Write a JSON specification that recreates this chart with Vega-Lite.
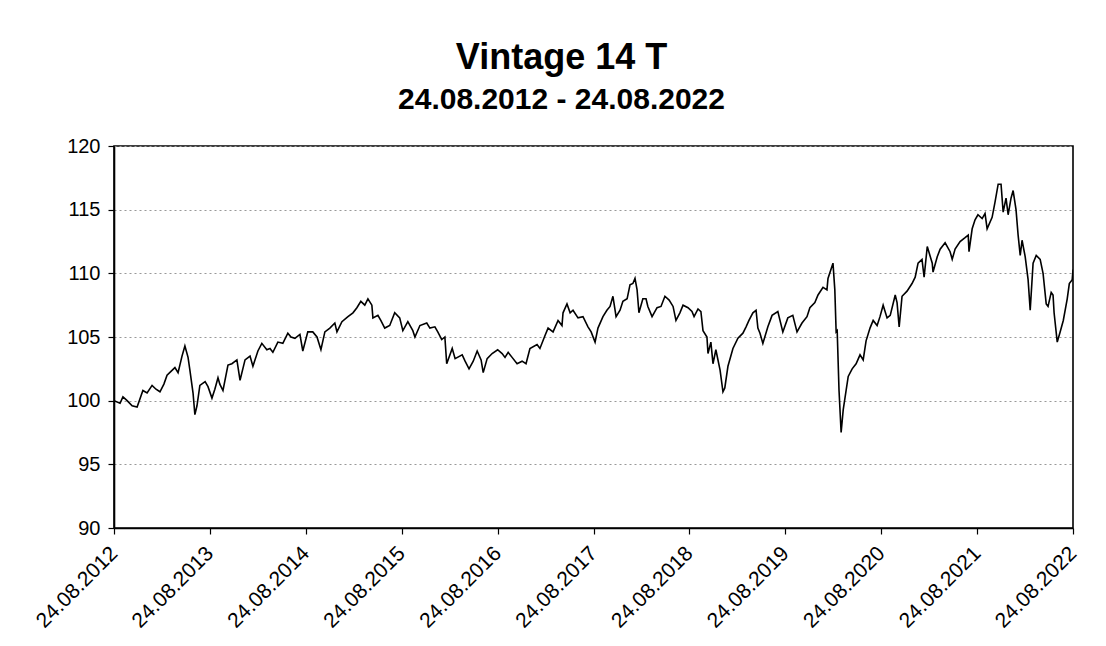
{
  "$schema": "https://vega.github.io/schema/vega-lite/v6.json",
  "width": 959,
  "height": 382,
  "autosize": {"type": "none"},
  "padding": {"left": 114, "top": 146, "right": 33, "bottom": 118},
  "background": "white",
  "title": {
    "text": "Vintage 14 T",
    "subtitle": "24.08.2012 - 24.08.2022",
    "anchor": "middle",
    "frame": "group",
    "dx": -32,
    "offset": 20,
    "font": "Liberation Sans",
    "subtitleFont": "Liberation Sans",
    "fontSize": 36,
    "subtitleFontSize": 30,
    "fontWeight": "bold",
    "subtitleFontWeight": "bold",
    "color": "#000000",
    "subtitleColor": "#000000",
    "subtitlePadding": 8
  },
  "config": {
    "view": {"stroke": "#000000", "strokeWidth": 1.6},
    "axis": {
      "labelFont": "Liberation Sans",
      "labelColor": "#000000",
      "labelFontSize": 20,
      "domainColor": "#000000",
      "domainWidth": 1.6,
      "tickColor": "#000000",
      "tickSize": 6,
      "tickWidth": 1.2
    }
  },
  "data": {
    "values": [
      {"d": "2012-08-24", "v": 100.0},
      {"d": "2012-09-16", "v": 99.8},
      {"d": "2012-09-27", "v": 100.3},
      {"d": "2012-10-13", "v": 100.0},
      {"d": "2012-11-01", "v": 99.6},
      {"d": "2012-11-20", "v": 99.5},
      {"d": "2012-12-12", "v": 100.8},
      {"d": "2012-12-28", "v": 100.6},
      {"d": "2013-01-16", "v": 101.2},
      {"d": "2013-01-31", "v": 100.9},
      {"d": "2013-02-15", "v": 100.7},
      {"d": "2013-03-02", "v": 101.3},
      {"d": "2013-03-14", "v": 102.0},
      {"d": "2013-03-29", "v": 102.3},
      {"d": "2013-04-13", "v": 102.6},
      {"d": "2013-04-25", "v": 102.2},
      {"d": "2013-05-10", "v": 103.5},
      {"d": "2013-05-21", "v": 104.3},
      {"d": "2013-06-02", "v": 103.4},
      {"d": "2013-06-09", "v": 102.4},
      {"d": "2013-06-21", "v": 100.6},
      {"d": "2013-06-28", "v": 98.9},
      {"d": "2013-07-06", "v": 99.6},
      {"d": "2013-07-17", "v": 101.2},
      {"d": "2013-08-06", "v": 101.5},
      {"d": "2013-08-17", "v": 101.1},
      {"d": "2013-09-01", "v": 100.2},
      {"d": "2013-09-12", "v": 100.9},
      {"d": "2013-09-24", "v": 101.8},
      {"d": "2013-10-01", "v": 101.3},
      {"d": "2013-10-13", "v": 100.8},
      {"d": "2013-11-01", "v": 102.8},
      {"d": "2013-11-16", "v": 102.9},
      {"d": "2013-12-05", "v": 103.2},
      {"d": "2013-12-17", "v": 101.6},
      {"d": "2014-01-05", "v": 103.2},
      {"d": "2014-01-24", "v": 103.5},
      {"d": "2014-02-04", "v": 102.7},
      {"d": "2014-02-23", "v": 103.9},
      {"d": "2014-03-10", "v": 104.5},
      {"d": "2014-03-29", "v": 104.0},
      {"d": "2014-04-10", "v": 104.1},
      {"d": "2014-04-21", "v": 103.8},
      {"d": "2014-05-10", "v": 104.6},
      {"d": "2014-05-29", "v": 104.5},
      {"d": "2014-06-17", "v": 105.3},
      {"d": "2014-06-29", "v": 105.0},
      {"d": "2014-07-14", "v": 104.9},
      {"d": "2014-08-02", "v": 105.2},
      {"d": "2014-08-13", "v": 103.9},
      {"d": "2014-09-01", "v": 105.4},
      {"d": "2014-09-20", "v": 105.4},
      {"d": "2014-10-06", "v": 105.0},
      {"d": "2014-10-21", "v": 104.0},
      {"d": "2014-11-05", "v": 105.4},
      {"d": "2014-11-24", "v": 105.7},
      {"d": "2014-12-13", "v": 106.1},
      {"d": "2014-12-21", "v": 105.4},
      {"d": "2015-01-09", "v": 106.2},
      {"d": "2015-02-01", "v": 106.6},
      {"d": "2015-02-20", "v": 106.9},
      {"d": "2015-03-07", "v": 107.3},
      {"d": "2015-03-22", "v": 107.8},
      {"d": "2015-04-06", "v": 107.5},
      {"d": "2015-04-18", "v": 108.0},
      {"d": "2015-05-03", "v": 107.5},
      {"d": "2015-05-07", "v": 106.5},
      {"d": "2015-05-26", "v": 106.7},
      {"d": "2015-06-06", "v": 106.3},
      {"d": "2015-06-21", "v": 105.7},
      {"d": "2015-07-10", "v": 105.9},
      {"d": "2015-07-29", "v": 106.9},
      {"d": "2015-08-17", "v": 106.5},
      {"d": "2015-08-29", "v": 105.5},
      {"d": "2015-09-17", "v": 106.2},
      {"d": "2015-10-06", "v": 105.5},
      {"d": "2015-10-14", "v": 105.0},
      {"d": "2015-11-02", "v": 105.9},
      {"d": "2015-11-28", "v": 106.1},
      {"d": "2015-12-10", "v": 105.7},
      {"d": "2015-12-29", "v": 105.8},
      {"d": "2016-01-09", "v": 105.4},
      {"d": "2016-01-24", "v": 104.8},
      {"d": "2016-02-05", "v": 105.0},
      {"d": "2016-02-12", "v": 102.9},
      {"d": "2016-03-04", "v": 104.1},
      {"d": "2016-03-15", "v": 103.3},
      {"d": "2016-04-11", "v": 103.6},
      {"d": "2016-04-22", "v": 103.1},
      {"d": "2016-05-07", "v": 102.5},
      {"d": "2016-05-23", "v": 103.1},
      {"d": "2016-06-07", "v": 103.9},
      {"d": "2016-06-22", "v": 103.2},
      {"d": "2016-06-30", "v": 102.2},
      {"d": "2016-07-15", "v": 103.3},
      {"d": "2016-08-03", "v": 103.7},
      {"d": "2016-08-24", "v": 104.0},
      {"d": "2016-09-10", "v": 103.7},
      {"d": "2016-09-21", "v": 103.4},
      {"d": "2016-10-03", "v": 103.8},
      {"d": "2016-10-18", "v": 103.4},
      {"d": "2016-11-06", "v": 102.9},
      {"d": "2016-11-25", "v": 103.1},
      {"d": "2016-12-10", "v": 102.9},
      {"d": "2016-12-25", "v": 104.1},
      {"d": "2017-01-21", "v": 104.4},
      {"d": "2017-02-01", "v": 104.1},
      {"d": "2017-02-20", "v": 105.1},
      {"d": "2017-03-04", "v": 105.7},
      {"d": "2017-03-23", "v": 105.4},
      {"d": "2017-04-11", "v": 106.3},
      {"d": "2017-04-26", "v": 105.9},
      {"d": "2017-04-30", "v": 106.9},
      {"d": "2017-05-15", "v": 107.6},
      {"d": "2017-05-27", "v": 106.9},
      {"d": "2017-06-07", "v": 107.1},
      {"d": "2017-06-26", "v": 106.5},
      {"d": "2017-07-15", "v": 106.6},
      {"d": "2017-08-03", "v": 105.8},
      {"d": "2017-08-15", "v": 105.4},
      {"d": "2017-08-30", "v": 104.6},
      {"d": "2017-09-10", "v": 105.7},
      {"d": "2017-09-29", "v": 106.6},
      {"d": "2017-10-14", "v": 107.1},
      {"d": "2017-10-26", "v": 107.4},
      {"d": "2017-11-06", "v": 108.2},
      {"d": "2017-11-18", "v": 106.6},
      {"d": "2017-12-03", "v": 107.1},
      {"d": "2017-12-14", "v": 107.8},
      {"d": "2017-12-30", "v": 108.0},
      {"d": "2018-01-10", "v": 109.1},
      {"d": "2018-01-21", "v": 109.2},
      {"d": "2018-01-29", "v": 109.6},
      {"d": "2018-02-06", "v": 108.7},
      {"d": "2018-02-13", "v": 106.9},
      {"d": "2018-02-28", "v": 108.0},
      {"d": "2018-03-12", "v": 108.0},
      {"d": "2018-03-19", "v": 107.4},
      {"d": "2018-04-04", "v": 106.6},
      {"d": "2018-04-23", "v": 107.3},
      {"d": "2018-05-08", "v": 107.4},
      {"d": "2018-05-23", "v": 108.2},
      {"d": "2018-06-08", "v": 107.9},
      {"d": "2018-06-23", "v": 107.4},
      {"d": "2018-07-04", "v": 106.3},
      {"d": "2018-07-19", "v": 106.9},
      {"d": "2018-07-31", "v": 107.5},
      {"d": "2018-08-19", "v": 107.3},
      {"d": "2018-09-03", "v": 107.0},
      {"d": "2018-09-11", "v": 106.6},
      {"d": "2018-09-26", "v": 107.2},
      {"d": "2018-10-07", "v": 107.0},
      {"d": "2018-10-15", "v": 105.5},
      {"d": "2018-10-30", "v": 105.0},
      {"d": "2018-11-03", "v": 103.7},
      {"d": "2018-11-14", "v": 104.6},
      {"d": "2018-11-22", "v": 102.9},
      {"d": "2018-12-03", "v": 104.0},
      {"d": "2018-12-19", "v": 102.4},
      {"d": "2018-12-30", "v": 100.7},
      {"d": "2019-01-06", "v": 101.0},
      {"d": "2019-01-18", "v": 102.7},
      {"d": "2019-02-06", "v": 104.1},
      {"d": "2019-02-25", "v": 104.9},
      {"d": "2019-03-16", "v": 105.3},
      {"d": "2019-03-28", "v": 105.8},
      {"d": "2019-04-08", "v": 106.3},
      {"d": "2019-04-23", "v": 106.9},
      {"d": "2019-05-05", "v": 107.1},
      {"d": "2019-05-12", "v": 105.7},
      {"d": "2019-05-20", "v": 105.3},
      {"d": "2019-05-31", "v": 104.5},
      {"d": "2019-06-19", "v": 105.8},
      {"d": "2019-07-05", "v": 106.7},
      {"d": "2019-07-27", "v": 107.0},
      {"d": "2019-08-15", "v": 105.4},
      {"d": "2019-09-03", "v": 106.5},
      {"d": "2019-09-22", "v": 106.7},
      {"d": "2019-10-08", "v": 105.4},
      {"d": "2019-10-27", "v": 106.1},
      {"d": "2019-11-15", "v": 106.6},
      {"d": "2019-11-26", "v": 107.3},
      {"d": "2019-12-15", "v": 107.7},
      {"d": "2019-12-27", "v": 108.3},
      {"d": "2020-01-15", "v": 108.9},
      {"d": "2020-01-30", "v": 108.7},
      {"d": "2020-02-03", "v": 109.6},
      {"d": "2020-02-22", "v": 110.8},
      {"d": "2020-02-29", "v": 108.7},
      {"d": "2020-03-05", "v": 105.4},
      {"d": "2020-03-09", "v": 105.5},
      {"d": "2020-03-16", "v": 100.8},
      {"d": "2020-03-24", "v": 97.5},
      {"d": "2020-04-01", "v": 99.3},
      {"d": "2020-04-12", "v": 100.8},
      {"d": "2020-04-20", "v": 101.9},
      {"d": "2020-05-05", "v": 102.5},
      {"d": "2020-05-20", "v": 102.9},
      {"d": "2020-06-04", "v": 103.6},
      {"d": "2020-06-16", "v": 103.2},
      {"d": "2020-06-27", "v": 104.7},
      {"d": "2020-07-12", "v": 105.7},
      {"d": "2020-07-24", "v": 106.3},
      {"d": "2020-08-08", "v": 105.9},
      {"d": "2020-08-19", "v": 106.6},
      {"d": "2020-08-31", "v": 107.5},
      {"d": "2020-09-15", "v": 106.5},
      {"d": "2020-09-27", "v": 106.7},
      {"d": "2020-10-16", "v": 108.3},
      {"d": "2020-10-23", "v": 107.7},
      {"d": "2020-10-31", "v": 105.8},
      {"d": "2020-11-11", "v": 108.2},
      {"d": "2020-11-30", "v": 108.6},
      {"d": "2020-12-19", "v": 109.2},
      {"d": "2020-12-31", "v": 109.7},
      {"d": "2021-01-11", "v": 110.8},
      {"d": "2021-01-26", "v": 111.1},
      {"d": "2021-02-03", "v": 109.7},
      {"d": "2021-02-15", "v": 112.1},
      {"d": "2021-03-06", "v": 110.8},
      {"d": "2021-03-09", "v": 110.1},
      {"d": "2021-03-25", "v": 111.3},
      {"d": "2021-04-05", "v": 111.9},
      {"d": "2021-04-24", "v": 112.4},
      {"d": "2021-05-13", "v": 111.7},
      {"d": "2021-05-21", "v": 111.1},
      {"d": "2021-06-01", "v": 111.9},
      {"d": "2021-06-20", "v": 112.5},
      {"d": "2021-07-09", "v": 112.8},
      {"d": "2021-07-21", "v": 113.0},
      {"d": "2021-07-24", "v": 111.7},
      {"d": "2021-08-05", "v": 113.5},
      {"d": "2021-08-16", "v": 114.2},
      {"d": "2021-08-27", "v": 114.6},
      {"d": "2021-09-12", "v": 114.3},
      {"d": "2021-09-23", "v": 114.7},
      {"d": "2021-10-01", "v": 113.5},
      {"d": "2021-10-20", "v": 114.4},
      {"d": "2021-10-31", "v": 115.6},
      {"d": "2021-11-12", "v": 117.0},
      {"d": "2021-11-23", "v": 117.0},
      {"d": "2021-12-01", "v": 114.8},
      {"d": "2021-12-12", "v": 115.9},
      {"d": "2021-12-20", "v": 114.6},
      {"d": "2021-12-31", "v": 115.9},
      {"d": "2022-01-08", "v": 116.5},
      {"d": "2022-01-19", "v": 115.0},
      {"d": "2022-01-27", "v": 113.0},
      {"d": "2022-02-04", "v": 111.4},
      {"d": "2022-02-11", "v": 112.6},
      {"d": "2022-02-23", "v": 111.3},
      {"d": "2022-03-06", "v": 109.5},
      {"d": "2022-03-14", "v": 107.1},
      {"d": "2022-03-25", "v": 110.8},
      {"d": "2022-04-06", "v": 111.4},
      {"d": "2022-04-21", "v": 111.1},
      {"d": "2022-05-02", "v": 110.0},
      {"d": "2022-05-14", "v": 107.6},
      {"d": "2022-05-21", "v": 107.4},
      {"d": "2022-06-02", "v": 108.5},
      {"d": "2022-06-09", "v": 108.3},
      {"d": "2022-06-13", "v": 106.9},
      {"d": "2022-06-25", "v": 104.6},
      {"d": "2022-07-06", "v": 105.4},
      {"d": "2022-07-18", "v": 106.3},
      {"d": "2022-08-02", "v": 108.0},
      {"d": "2022-08-10", "v": 109.2},
      {"d": "2022-08-21", "v": 109.5},
      {"d": "2022-08-24", "v": 110.3}
    ]
  },
  "mark": {"type": "line", "color": "#000000", "strokeWidth": 1.6, "clip": true},
  "encoding": {
    "x": {
      "field": "d",
      "type": "temporal",
      "title": null,
      "scale": {
        "type": "utc",
        "domain": [
          {"year": 2012, "month": 8, "date": 24, "utc": true},
          {"year": 2022, "month": 8, "date": 24, "utc": true}
        ]
      },
      "axis": {
        "values": [
          {"year": 2012, "month": 8, "date": 24, "utc": true},
          {"year": 2013, "month": 8, "date": 24, "utc": true},
          {"year": 2014, "month": 8, "date": 24, "utc": true},
          {"year": 2015, "month": 8, "date": 24, "utc": true},
          {"year": 2016, "month": 8, "date": 24, "utc": true},
          {"year": 2017, "month": 8, "date": 24, "utc": true},
          {"year": 2018, "month": 8, "date": 24, "utc": true},
          {"year": 2019, "month": 8, "date": 24, "utc": true},
          {"year": 2020, "month": 8, "date": 24, "utc": true},
          {"year": 2021, "month": 8, "date": 24, "utc": true},
          {"year": 2022, "month": 8, "date": 24, "utc": true}
        ],
        "labelExpr": "utcFormat(datum.value, '%d.%m.%Y')",
        "labelAngle": -45,
        "labelAlign": "right",
        "labelBaseline": "middle",
        "labelFontSize": 21,
        "labelPadding": 16,
        "labelOverlap": false,
        "labelBound": false,
        "labelFlush": false,
        "grid": false
      }
    },
    "y": {
      "field": "v",
      "type": "quantitative",
      "title": null,
      "scale": {"domain": [90, 120], "nice": false, "zero": false},
      "axis": {
        "values": [90, 95, 100, 105, 110, 115, 120],
        "grid": true,
        "gridColor": "#999999",
        "gridDash": [2, 3],
        "gridWidth": 1,
        "labelPadding": 8
      }
    }
  }
}
